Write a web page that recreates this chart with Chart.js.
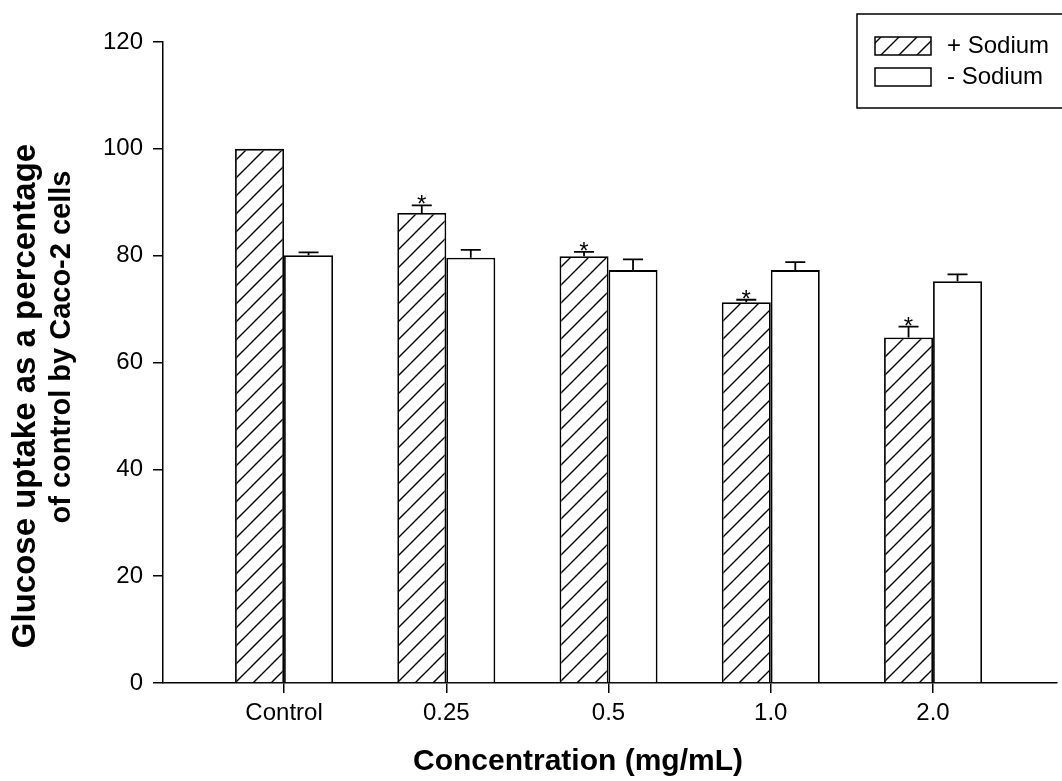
<!DOCTYPE html>
<html>
<head>
<meta charset="utf-8">
<script src="https://cdn.jsdelivr.net/npm/chart.js@4.4.1/dist/chart.umd.min.js"></script>
<style>
  html, body { margin: 0; padding: 0; background: #fff; }
  #kutu { width: 1062px; height: 781px; position: relative; }
</style>
</head>
<body>
<div id="kutu"><canvas id="grafik"></canvas></div>
<script>
// Data
const categories = ['Control', '0.25', '0.5', '1.0', '2.0'];
const withSodium = [100, 88.0, 79.9, 71.3, 64.7];
const withSodiumErr = [0, 1.4, 0.8, 0.45, 2.0];
const withoutSodium = [80.1, 79.6, 77.3, 77.3, 75.2];
const withoutSodiumErr = [0.5, 1.5, 2.0, 1.5, 1.3];
const significant = [false, true, true, true, true];
const yTicks = [0, 20, 40, 60, 80, 100, 120];
const xTitle = 'Concentration (mg/mL)';
const yTitle = ['Glucose uptake as a percentage', 'of control by Caco-2 cells'];

const FONT = "'Liberation Sans', Arial, sans-serif";

/**
 * Builds the diagonal hatch fill used by the "+ Sodium" bars.
 */
function hatchPattern() {
    const s = 18;
    const c = document.createElement('canvas');
    c.width = s; c.height = s;
    const g = c.getContext('2d');
    g.fillStyle = '#fff';
    g.fillRect(0, 0, s, s);
    g.strokeStyle = '#000';
    g.lineWidth = 1.4;
    g.beginPath();
    g.moveTo(-2, s + 2); g.lineTo(s + 2, -2);
    g.moveTo(-2, 2); g.lineTo(2, -2);
    g.moveTo(s - 2, s + 2); g.lineTo(s + 2, s - 2);
    g.stroke();
    return document.getElementById('grafik').getContext('2d').createPattern(c, 'repeat');
}

const hatch = hatchPattern();
const toPoints = arr => arr.map((v, i) => ({ x: i, y: v }));

// error bars (upper only) and significance stars
const errorBarPlugin = {
    id: 'hataCubuklari',
    afterDatasetsDraw(chart) {
        const ctx = chart.ctx;
        const y = chart.scales.y;
        const errs = [withSodiumErr, withoutSodiumErr];
        ctx.save();
        ctx.strokeStyle = '#000';
        ctx.lineWidth = 1.8;
        chart.data.datasets.forEach((ds, d) => {
            const meta = chart.getDatasetMeta(d);
            meta.data.forEach((bar, i) => {
                const top = y.getPixelForValue(ds.data[i].y + errs[d][i]);
                if (errs[d][i] > 0) {
                    ctx.beginPath();
                    ctx.moveTo(bar.x, bar.y);
                    ctx.lineTo(bar.x, top);
                    ctx.moveTo(bar.x - 10, top);
                    ctx.lineTo(bar.x + 10, top);
                    ctx.stroke();
                }
                if (d === 0 && significant[i]) {
                    ctx.fillStyle = '#000';
                    ctx.font = '24px ' + FONT;
                    ctx.textAlign = 'center';
                    ctx.textBaseline = 'alphabetic';
                    ctx.fillText('*', bar.x, top + 7);
                }
            });
        });
        ctx.restore();
    }
};

// boxed legend in the top right corner, plus the axis titles
const legendPlugin = {
    id: 'kutuluLejant',
    afterDraw(chart) {
        const ctx = chart.ctx;
        ctx.save();
        ctx.strokeStyle = '#000';
        ctx.lineWidth = 1.5;
        ctx.strokeRect(857, 14, 210, 94);
        chart.data.datasets.forEach((ds, d) => {
            const top = d === 0 ? 37 : 68;
            ctx.fillStyle = ds.backgroundColor;
            ctx.fillRect(875, top, 56, 18);
            ctx.strokeRect(875, top, 56, 18);
            ctx.fillStyle = '#000';
            ctx.font = '24px ' + FONT;
            ctx.textAlign = 'left';
            ctx.textBaseline = 'middle';
            ctx.fillText(ds.label, 947, top + 9);
        });

        ctx.fillStyle = '#000';
        ctx.textAlign = 'center';
        ctx.textBaseline = 'middle';
        ctx.font = 'bold 30px ' + FONT;
        ctx.fillText(xTitle, 578, 762);

        ctx.translate(0, 0);
        ctx.save();
        ctx.translate(26, 396);
        ctx.rotate(-Math.PI / 2);
        ctx.font = 'bold 33px ' + FONT;
        ctx.fillText(yTitle[0], 0, 0);
        ctx.restore();
        ctx.save();
        ctx.translate(62, 347);
        ctx.rotate(-Math.PI / 2);
        ctx.font = 'bold 29px ' + FONT;
        ctx.fillText(yTitle[1], 0, 0);
        ctx.restore();
        ctx.restore();
    }
};

new Chart(document.getElementById('grafik'), {
    type: 'bar',
    data: {
        datasets: [
            {
                label: '+ Sodium',
                data: toPoints(withSodium),
                backgroundColor: hatch,
                borderColor: '#000',
                borderWidth: 1.8,
                categoryPercentage: 0.604,
                barPercentage: 1.0
            },
            {
                label: '- Sodium',
                data: toPoints(withoutSodium),
                backgroundColor: '#fff',
                borderColor: '#000',
                borderWidth: 1.8,
                categoryPercentage: 0.604,
                barPercentage: 1.0
            }
        ]
    },
    options: {
        responsive: true,
        maintainAspectRatio: false,
        animation: false,
        layout: { padding: { top: 42, right: 5, left: 0, bottom: 0 } },
        plugins: {
            legend: { display: false },
            tooltip: { enabled: false }
        },
        scales: {
            x: {
                type: 'linear',
                offset: false,
                min: -0.746,
                max: 4.764,
                afterBuildTicks: axis => { axis.ticks = categories.map((c, i) => ({ value: i })); },
                afterFit: axis => { axis.height = 98; },
                grid: { display: true, offset: false, drawOnChartArea: false, drawTicks: true, tickLength: 10, color: '#000', lineWidth: 1.5 },
                border: { display: true, color: '#000', width: 1.5 },
                ticks: {
                    color: '#000',
                    font: { family: FONT, size: 24 },
                    padding: 6,
                    maxRotation: 0,
                    autoSkip: false,
                    callback: v => categories[v]
                }
            },
            y: {
                min: 0,
                max: 120,
                afterBuildTicks: axis => { axis.ticks = yTicks.map(v => ({ value: v })); },
                afterFit: axis => { axis.width = 163; },
                grid: { display: true, drawOnChartArea: false, drawTicks: true, tickLength: 10, color: '#000', lineWidth: 1.5 },
                border: { display: true, color: '#000', width: 1.5 },
                ticks: {
                    color: '#000',
                    font: { family: FONT, size: 24 },
                    padding: 10
                }
            }
        }
    },
    plugins: [errorBarPlugin, legendPlugin]
});
</script>
</body>
</html>
